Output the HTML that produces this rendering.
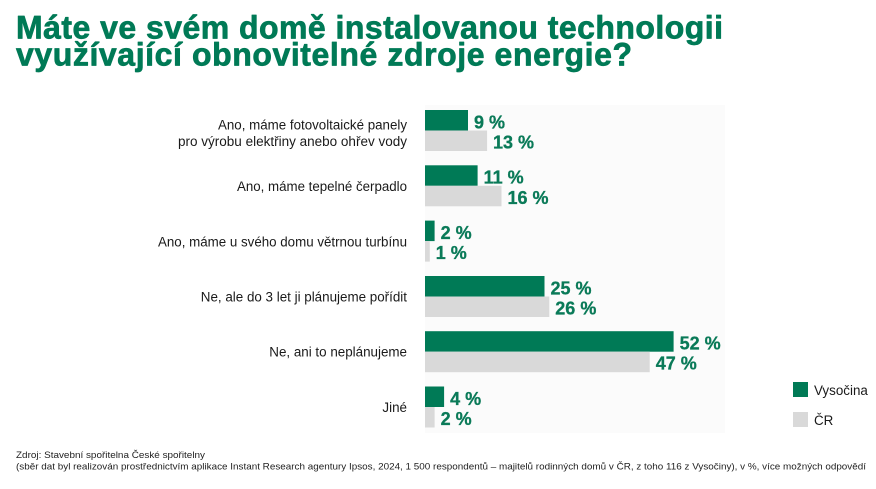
<!DOCTYPE html>
<html>
<head>
<meta charset="utf-8">
<style>
  html,body{margin:0;padding:0;background:#fff;}
  svg{display:block;}
  .t{font-family:"Liberation Sans",Arial,sans-serif;}
</style>
</head>
<body>
<svg width="876" height="489" viewBox="0 0 876 489" xmlns="http://www.w3.org/2000/svg">
  <rect x="0" y="0" width="876" height="489" fill="#ffffff"/>
  <!-- faint plot panel -->
  <rect x="425" y="105" width="300" height="328" fill="#fbfbfb"/>

  <!-- Title -->
  <g class="t" font-size="32" font-weight="bold" fill="#007a56" stroke="#007a56" stroke-width="0.7" stroke-linejoin="round">
    <text x="16" y="38.5" textLength="707" lengthAdjust="spacing">Máte ve svém domě instalovanou technologii</text>
    <text x="16" y="65.5" textLength="616" lengthAdjust="spacing">využívající obnovitelné zdroje energie?</text>
  </g>

  <!-- Category labels -->
  <g class="t" font-size="13.4" fill="#1a1a1a" text-anchor="end">
    <text x="407" y="129.5" textLength="189" lengthAdjust="spacingAndGlyphs">Ano, máme fotovoltaické panely</text>
    <text x="407" y="146" textLength="229" lengthAdjust="spacingAndGlyphs">pro výrobu elektřiny anebo ohřev vody</text>
    <text x="407" y="191" textLength="170" lengthAdjust="spacingAndGlyphs">Ano, máme tepelné čerpadlo</text>
    <text x="407" y="246.3" textLength="249" lengthAdjust="spacingAndGlyphs">Ano, máme u svého domu větrnou turbínu</text>
    <text x="407" y="301.5">Ne, ale do 3 let ji plánujeme pořídit</text>
    <text x="407" y="356.7">Ne, ani to neplánujeme</text>
    <text x="407" y="412">Jiné</text>
  </g>

  <!-- Bars: scale 4.78 px per %, start x=425 -->
  <g>
    <rect x="425" y="110" width="43" height="20.5" fill="#007a56"/>
    <rect x="425" y="130.5" width="62.1" height="20.5" fill="#d9d9d9"/>
    <rect x="425" y="165.3" width="52.6" height="20.5" fill="#007a56"/>
    <rect x="425" y="185.8" width="76.5" height="20.5" fill="#d9d9d9"/>
    <rect x="425" y="220.6" width="9.6" height="20.5" fill="#007a56"/>
    <rect x="425" y="241.1" width="4.8" height="20.5" fill="#d9d9d9"/>
    <rect x="425" y="276" width="119.5" height="20.5" fill="#007a56"/>
    <rect x="425" y="296.5" width="124.3" height="20.5" fill="#d9d9d9"/>
    <rect x="425" y="331.2" width="248.6" height="20.5" fill="#007a56"/>
    <rect x="425" y="351.7" width="224.7" height="20.5" fill="#d9d9d9"/>
    <rect x="425" y="386.5" width="19.1" height="20.5" fill="#007a56"/>
    <rect x="425" y="407" width="9.6" height="20.5" fill="#d9d9d9"/>
  </g>

  <!-- Value labels -->
  <g class="t" font-size="18" font-weight="bold" fill="#0a7a58" stroke="#0a7a58" stroke-width="0.3">
    <text x="474" y="128.3">9 %</text>
    <text x="493" y="148.5">13 %</text>
    <text x="483.6" y="183.6">11 %</text>
    <text x="507.5" y="203.8">16 %</text>
    <text x="440.6" y="238.9">2 %</text>
    <text x="435.8" y="259.1">1 %</text>
    <text x="550.5" y="294.3">25 %</text>
    <text x="555.3" y="314.5">26 %</text>
    <text x="679.6" y="349.5">52 %</text>
    <text x="655.7" y="369.7">47 %</text>
    <text x="450.1" y="404.8">4 %</text>
    <text x="440.6" y="425">2 %</text>
  </g>

  <!-- Legend -->
  <rect x="793" y="382" width="15" height="15" fill="#007a56"/>
  <rect x="793" y="412" width="15" height="15" fill="#d9d9d9"/>
  <g class="t" font-size="13.4" fill="#1a1a1a">
    <text x="814" y="395">Vysočina</text>
    <text x="814" y="425">ČR</text>
  </g>

  <!-- Footer -->
  <g class="t" font-size="9.5" fill="#222">
    <text x="16" y="458" textLength="189" lengthAdjust="spacingAndGlyphs">Zdroj: Stavební spořitelna České spořitelny</text>
    <text x="16" y="469.5" textLength="850" lengthAdjust="spacingAndGlyphs">(sběr dat byl realizován prostřednictvím aplikace Instant Research agentury Ipsos, 2024, 1 500 respondentů – majitelů rodinných domů v ČR, z toho 116 z Vysočiny), v %, více možných odpovědí</text>
  </g>
</svg>
</body>
</html>
